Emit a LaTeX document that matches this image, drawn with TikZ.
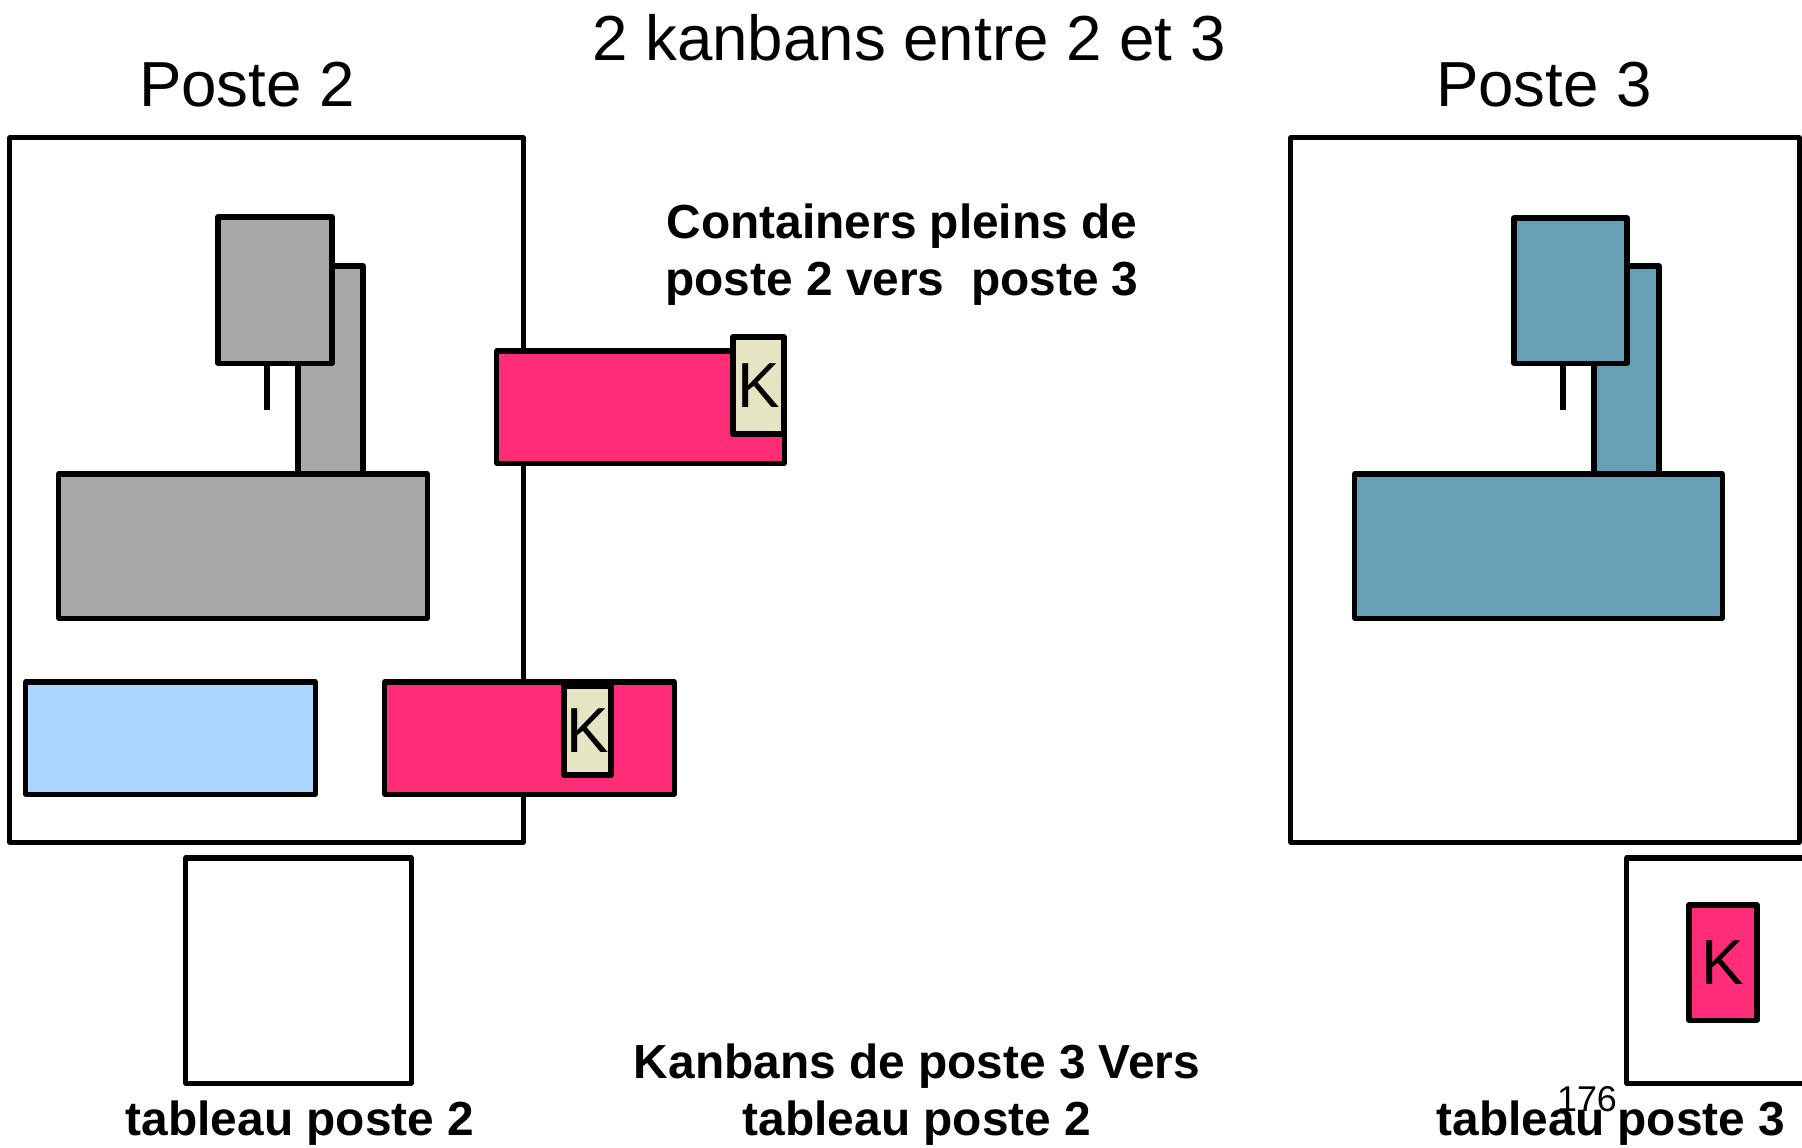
\documentclass[tikz,border=0pt]{standalone}
\usepackage{fontspec}
\setmainfont{Liberation Sans}
\definecolor{gris}{HTML}{A8A8A8}
\definecolor{rose}{HTML}{FF2D78}
\definecolor{beige}{HTML}{E5E5C4}
\definecolor{bleuclair}{HTML}{AAD5FF}
\definecolor{petrole}{HTML}{67A0B6}

\begin{document}
\begin{tikzpicture}[x=0.01cm, y=-0.01cm, line width=1.45pt, line join=round,
                    boite/.style={draw,rectangle,inner sep=0pt},
                    carte/.style={boite,font=\fontsize{18.1}{21}\selectfont},
                    titre/.style={font=\fontsize{18.1}{21}\selectfont,inner sep=0pt,anchor=base},
                    legende/.style={font=\fontsize{13.6}{16.2}\selectfont\bfseries,inner sep=0pt,anchor=base,align=center}]

  \clip (0,0) rectangle (1802,1147);

  % postes
  \node[boite,minimum width=5.13cm,minimum height=7.04cm] (poste2) at (266.5,490) {};
  \node[boite,minimum width=5.08cm,minimum height=7.04cm] (poste3) at (1545,490) {};

  % machine du poste 2
  \node[boite,fill=gris,minimum width=0.65cm,minimum height=2.08cm] (colonne2) at (330.5,370) {};
  \node[boite,fill=gris,minimum width=1.14cm,minimum height=1.46cm] (tete2) at (275,290) {};
  \coordinate (outil2) at (267,410);
  \draw (tete2.south -| outil2) -- (outil2);
  \node[boite,fill=gris,minimum width=3.68cm,minimum height=1.44cm] (socle2) at (243,546) {};

  % machine du poste 3
  \node[boite,fill=petrole,minimum width=0.65cm,minimum height=2.08cm] (colonne3) at (1626.5,370) {};
  \node[boite,fill=petrole,minimum width=1.13cm,minimum height=1.45cm] (tete3) at (1570.5,290.5) {};
  \coordinate (outil3) at (1563,410);
  \draw (tete3.south -| outil3) -- (outil3);
  \node[boite,fill=petrole,minimum width=3.67cm,minimum height=1.44cm] (socle3) at (1538.5,546) {};

  % containers
  \node[boite,fill=rose,minimum width=2.87cm,minimum height=1.12cm] (plein) at (640.5,407) {};
  \node[carte,fill=beige,minimum width=0.51cm,minimum height=0.97cm] (k1) at (758.5,385.5) {K};
  \node[boite,fill=bleuclair,minimum width=2.89cm,minimum height=1.12cm] (vide) at (170.5,738) {};
  \node[boite,fill=rose,minimum width=2.89cm,minimum height=1.12cm] (encours) at (529.5,738) {};
  \node[carte,fill=beige,minimum width=0.47cm,minimum height=0.89cm] (k2) at (587.5,730.5) {K};

  % tableaux
  \node[boite,minimum width=2.25cm,minimum height=2.25cm] (tableau2) at (298.5,970.5) {};
  \node[boite,minimum width=2.25cm,minimum height=2.25cm] (tableau3) at (1739.5,970.5) {};
  \node[carte,fill=rose,minimum width=0.68cm,minimum height=1.15cm] (k3) at (1723,962.5) {K};

  % textes
  \node[titre] (titre) at (909,60) {2 kanbans entre 2 et 3};
  \node[titre] (nom2) at (247,106) {Poste 2};
  \node[titre] (nom3) at (1544,106) {Poste 3};
  \node[legende] (flux) at (902,295) {Containers pleins de\\poste 2 vers~~poste 3};
  \node[legende] (retour) at (917,1135) {Kanbans de poste 3 Vers\\tableau poste 2};
  \node[legende] (nomtab2) at (300,1135) {tableau poste 2};
  \node[legende] (nomtab3) at (1611,1135) {tableau poste 3};
  \node[font=\fontsize{10.2}{12}\selectfont,inner sep=0pt,anchor=base] (page) at (1587,1111) {176};

\end{tikzpicture}
\end{document}
